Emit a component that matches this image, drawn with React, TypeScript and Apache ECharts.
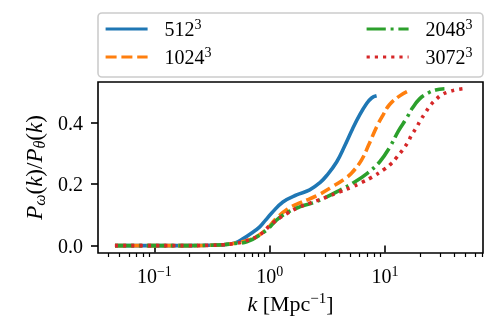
import React, { useEffect, useRef } from "react";
import * as echarts from "echarts";

const seriesNames = ["512", "1024", "2048", "3072"];
const colors = ["#1f77b4", "#ff7f0e", "#2ca02c", "#d62728"];

const kBlue = [0.0455, 0.1, 0.2, 0.3, 0.4, 0.5, 0.584, 0.698, 0.819, 0.92, 1.04, 1.3, 1.71, 2.22, 2.71, 3.12, 3.8, 4.46, 5.23, 6.02, 6.92, 7.64, 8.44];
const pBlue = [0, 0, 0, 0.001, 0.003, 0.009, 0.022, 0.041, 0.061, 0.083, 0.106, 0.142, 0.165, 0.181, 0.204, 0.228, 0.272, 0.324, 0.38, 0.425, 0.462, 0.48, 0.487];

const kOrange = [0.0455, 0.1, 0.2, 0.3, 0.4, 0.5, 0.671, 0.905, 1.15, 1.43, 1.82, 2.22, 2.71, 3.51, 4.46, 5.13, 6.26, 7.2, 8.44, 9.51, 10.9, 13.4, 16.0];
const pOrange = [0, 0, 0, 0.001, 0.003, 0.008, 0.019, 0.048, 0.09, 0.119, 0.139, 0.152, 0.167, 0.192, 0.217, 0.236, 0.279, 0.327, 0.386, 0.422, 0.458, 0.487, 0.503];

const kGreen = [0.0455, 0.1, 0.2, 0.3, 0.4, 0.5, 0.632, 0.942, 1.15, 1.49, 1.82, 2.36, 2.99, 4.04, 5.45, 7.05, 8.96, 10.9, 13.1, 15.4, 17.3, 19.9, 23.3, 27.4, 32.7];
const pGreen = [0, 0, 0, 0.001, 0.003, 0.007, 0.012, 0.051, 0.084, 0.112, 0.126, 0.139, 0.155, 0.18, 0.207, 0.236, 0.272, 0.318, 0.374, 0.415, 0.448, 0.477, 0.495, 0.506, 0.51];

const kRed = [0.0455, 0.1, 0.2, 0.3, 0.4, 0.5, 0.584, 0.819, 1.04, 1.4, 1.82, 2.22, 3.12, 4.04, 5.13, 6.26, 7.64, 9.9, 11.4, 12.6, 14.2, 15.7, 16.9, 18.7, 20.3, 22.4, 24.8, 27.9, 31.5, 36.2, 41.6, 46.9];
const pRed = [0, 0, 0, 0.001, 0.003, 0.007, 0.012, 0.035, 0.071, 0.104, 0.126, 0.138, 0.158, 0.175, 0.19, 0.205, 0.222, 0.249, 0.268, 0.287, 0.311, 0.335, 0.358, 0.384, 0.408, 0.433, 0.457, 0.477, 0.492, 0.501, 0.507, 0.51];

const xMajorTicks = [0.1, 1, 10];
const xMinorTicks = [0.04, 0.05, 0.06, 0.07, 0.08, 0.09, 0.2, 0.3, 0.4, 0.5, 0.6, 0.7, 0.8, 0.9, 2, 3, 4, 5, 6, 7, 8, 9, 20, 30, 40, 50, 60, 70];
const yTicks = [0, 0.2, 0.4];

const FONT = "Liberation Serif";

export default function App() {
  const ref = useRef<HTMLDivElement>(null);
  useEffect(() => {
    if (!ref.current) return;
    const chart = echarts.init(ref.current, null, { renderer: "svg" });
    const ks = [kBlue, kOrange, kGreen, kRed];
    const ps = [pBlue, pOrange, pGreen, pRed];
    const LW = 3.2;
    const SW = 3.6;
    const dashes: any[] = ["solid", [11, 4.8], [19.2, 4.8, 3, 4.8], [3.2, 5]];
    const legendPos = [
      { left: 104, top: 17 },
      { left: 104, top: 45 },
      { left: 365, top: 17 },
      { left: 365, top: 45 },
    ];
    const supRich = {
      n: { fontFamily: FONT, fontSize: 20, lineHeight: 24, color: "#000" },
      s: { fontFamily: FONT, fontSize: 14, lineHeight: 14, verticalAlign: "top", color: "#000" },
      sp: { width: 12, fontSize: 20, lineHeight: 24 },
    };
    const xMin = 0.03243;
    const xMax = 70.6;
    chart.setOption({
      animation: false,
      graphic: [
        {
          type: "rect",
          z: 0,
          shape: { x: 98, y: 13, width: 385, height: 64, r: 4 },
          style: { fill: "#fff", stroke: "#cccccc", lineWidth: 1.6 },
        },
      ],
      legend: seriesNames.map((n, i) => ({
        data: [n],
        left: legendPos[i].left,
        top: legendPos[i].top,
        padding: 0,
        itemWidth: 42,
        itemHeight: 14,
        selectedMode: false,
        itemStyle: { opacity: 0 },
        lineStyle: { width: LW, opacity: 1 },
        formatter: (name: string) => `{sp| }{n|${name}}{s|3}`,
        textStyle: { rich: supRich },
      })),
      grid: {
        left: 98,
        right: 13,
        top: 82,
        bottom: 73,
        show: true,
        borderColor: "#000",
        borderWidth: 1.6,
        backgroundColor: "transparent",
      },
      xAxis: [
        {
          type: "log",
          logBase: 10,
          min: xMin,
          max: xMax,
          axisLine: { show: false },
          splitLine: { show: false },
          axisTick: { show: true, length: 7, lineStyle: { color: "#000", width: 1.6 }, customValues: xMajorTicks },
          axisLabel: {
            customValues: xMajorTicks,
            margin: 11,
            formatter: (v: number) => {
              const e = Math.round(Math.log10(v));
              const t = e < 0 ? "\u2212" + -e : String(e);
              return `{n|10}{s|${t}}`;
            },
            rich: supRich,
          },
          name: "{i|k}{n| [Mpc}{s|\u22121}{n|]}",
          nameLocation: "middle",
          nameGap: 37,
          nameTextStyle: {
            rich: {
              i: { fontFamily: FONT, fontStyle: "italic", fontSize: 22, lineHeight: 26, color: "#000" },
              n: { fontFamily: FONT, fontSize: 22, lineHeight: 26, color: "#000" },
              s: { fontFamily: FONT, fontSize: 15, lineHeight: 17, verticalAlign: "top", color: "#000" },
            },
          },
        },
        {
          type: "log",
          logBase: 10,
          min: xMin,
          max: xMax,
          position: "bottom",
          axisLine: { show: false },
          splitLine: { show: false },
          axisLabel: { show: false },
          axisTick: { show: true, length: 4, lineStyle: { color: "#000", width: 1.2 }, customValues: xMinorTicks },
        },
      ],
      yAxis: {
        type: "value",
        min: -0.024,
        max: 0.532,
        axisLine: { show: false },
        splitLine: { show: false },
        axisTick: { show: true, length: 7, lineStyle: { color: "#000", width: 1.6 }, customValues: yTicks },
        axisLabel: {
          customValues: yTicks,
          margin: 15,
          formatter: (v: number) => v.toFixed(1),
          fontFamily: FONT,
          fontSize: 20,
          color: "#000",
        },
        name: "{i|P}{sub|\u03c9}{n|(}{i|k}{n|)/}{i|P}{sub|\u03b8}{n|(}{i|k}{n|)}",
        nameLocation: "middle",
        nameRotate: 90,
        nameGap: 49,
        nameTextStyle: {
          rich: {
            i: { fontFamily: FONT, fontStyle: "italic", fontSize: 23, lineHeight: 26, color: "#000" },
            n: { fontFamily: FONT, fontSize: 23, lineHeight: 26, color: "#000" },
            sub: { fontFamily: FONT, fontStyle: "italic", fontSize: 16, lineHeight: 11, verticalAlign: "bottom", color: "#000" },
          },
        },
      },
      series: seriesNames.map((n, i) => ({
        name: n,
        type: "line",
        xAxisIndex: 0,
        symbol: "none",
        smooth: 0.4,
        color: colors[i],
        lineStyle: { color: colors[i], width: SW, type: dashes[i] },
        data: ks[i].map((k, j) => [k, ps[i][j]]),
      })),
    });
    return () => chart.dispose();
  }, []);
  return <div ref={ref} style={{ position: "fixed", left: 0, top: 0, width: 496, height: 326 }} />;
}
